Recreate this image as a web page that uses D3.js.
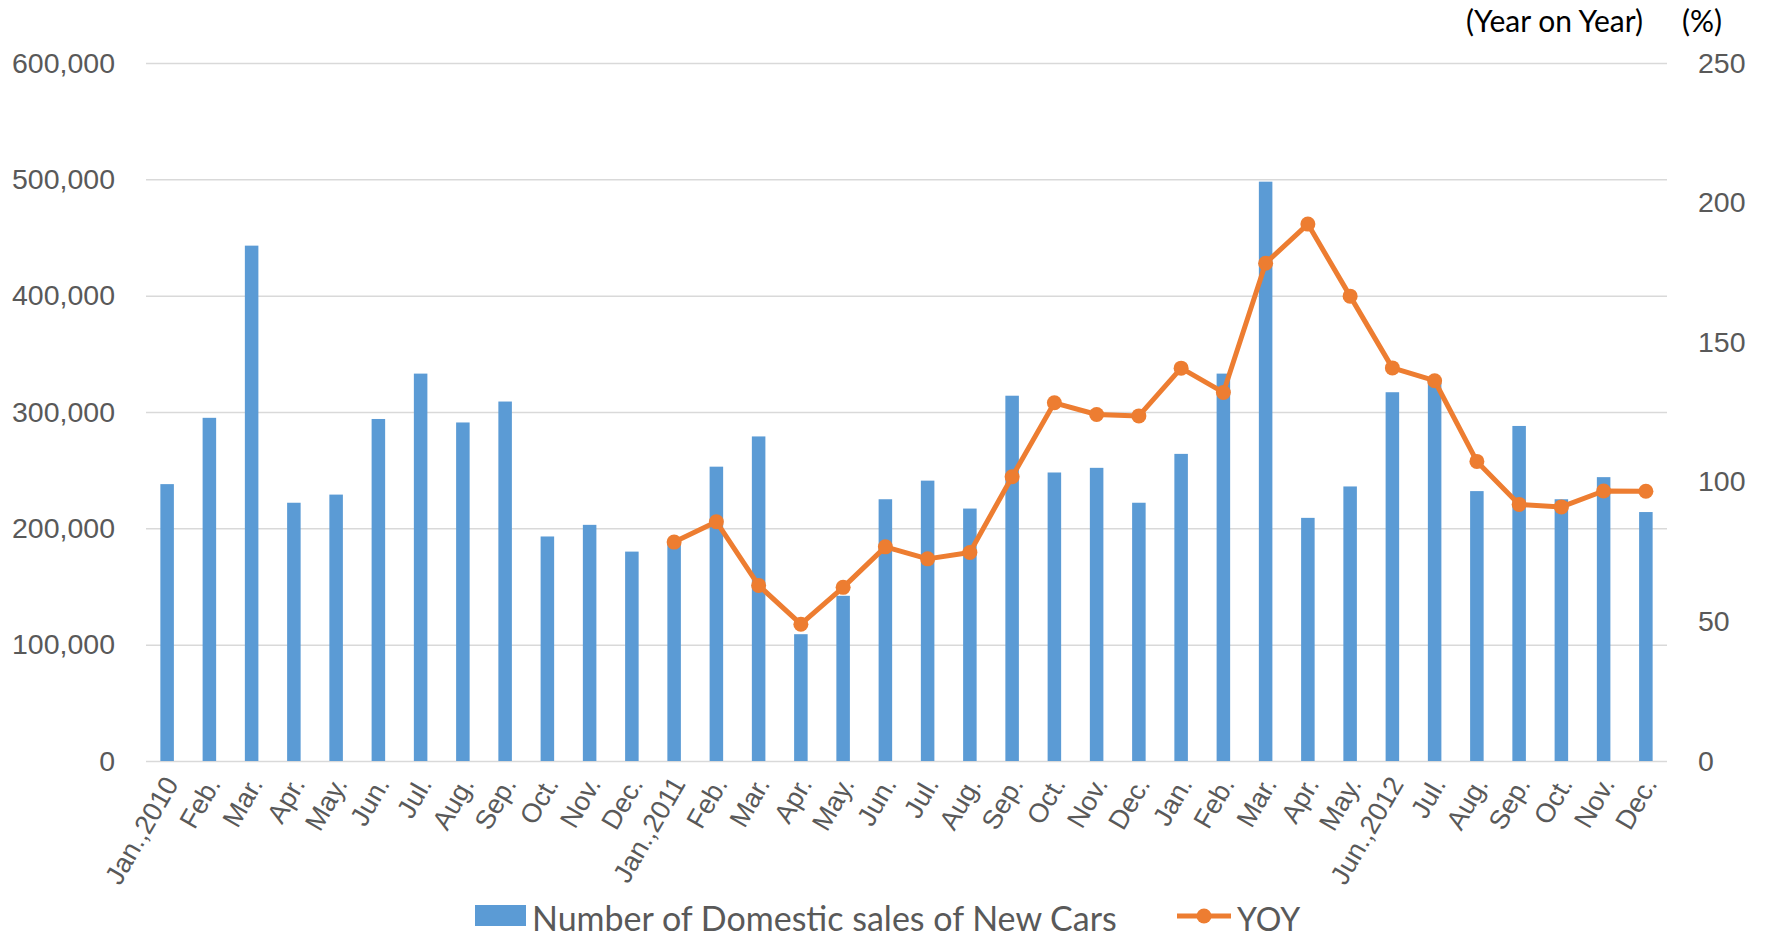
<!DOCTYPE html>
<html>
<head>
<meta charset="utf-8">
<script src="https://cdn.jsdelivr.net/npm/d3@7"></script>
<style>
  body { margin: 0; background: #fff; }
  svg { display: block; font-family: Lato, "Open Sans", sans-serif; }
  .axis text { fill: #595959; }
  .axis .domain { display: none; }
  .grid line { stroke: #d9d9d9; stroke-width: 1.5; }
  .grid .domain { display: none; }
</style>
</head>
<body>
<div id="chart"></div>
<script>

// month labels along the bottom
const months = [
    "Jan.,2010", "Feb.", "Mar.", "Apr.", "May.", "Jun.", "Jul.", "Aug.", "Sep.", "Oct.", "Nov.", "Dec.",
    "Jan.,2011", "Feb.", "Mar.", "Apr.", "May.", "Jun.", "Jul.", "Aug.", "Sep.", "Oct.", "Nov.", "Dec.",
    "Jan.", "Feb.", "Mar.", "Apr.", "May.", "Jun.,2012", "Jul.", "Aug.", "Sep.", "Oct.", "Nov.", "Dec."
];

// number of domestic sales of new cars
const sales = [
    238000, 295000, 443000, 222000, 229000, 294000, 333000, 291000, 309000, 193000, 203000, 180000,
    188000, 253000, 279000, 109000, 142000, 225000, 241000, 217000, 314000, 248000, 252000, 222000,
    264000, 333000, 498000, 209000, 236000, 317000, 328000, 232000, 288000, 225000, 244000, 214000
];

// year on year (%), none for 2010
const yoy = [
    null, null, null, null, null, null, null, null, null, null, null, null,
    78.4, 85.7, 62.9, 49.0, 62.2, 76.7, 72.4, 74.7, 101.8, 128.3, 124.1, 123.6,
    140.7, 132.0, 178.3, 192.3, 166.5, 140.8, 136.2, 107.3, 91.9, 91.0, 96.7, 96.6
];

const salesTicks = [0, 100000, 200000, 300000, 400000, 500000, 600000];
const yoyTicks = [0, 50, 100, 150, 200, 250];

const legendItems = ["Number of Domestic sales of New Cars", "YOY"];

const width = 1765, height = 943;
const margin = {top: 63, right: 98, bottom: 182, left: 146};

const barColor = "#5b9bd5";
const lineColor = "#ed7d31";

const svg = d3.select("#chart").append("svg")
    .attr("width", width)
    .attr("height", height);

const x = d3.scaleBand()
    .domain(d3.range(months.length))
    .range([margin.left, width - margin.right])
    .paddingInner(0.68)
    .paddingOuter(0.34);

const y = d3.scaleLinear()
    .domain([0, 600000])
    .range([height - margin.bottom, margin.top]);

const y2 = d3.scaleLinear()
    .domain([0, 250])
    .range([height - margin.bottom, margin.top]);

// gridlines
svg.append("g")
    .attr("class", "grid")
    .attr("transform", `translate(${margin.left},0)`)
    .call(d3.axisLeft(y).tickValues(salesTicks).tickSize(-(width - margin.left - margin.right)).tickFormat(""));

// left axis
svg.append("g")
    .attr("class", "axis")
    .attr("transform", `translate(${margin.left},0)`)
    .call(d3.axisLeft(y).tickValues(salesTicks).tickSize(0).tickPadding(31).tickFormat(d3.format(",")))
    .selectAll("text")
    .attr("font-size", "28.5px");

// right axis
svg.append("g")
    .attr("class", "axis")
    .attr("transform", `translate(${width - margin.right},0)`)
    .call(d3.axisRight(y2).tickValues(yoyTicks).tickSize(0).tickPadding(31))
    .selectAll("text")
    .attr("font-size", "28.5px");

// bottom axis, labels turned
const xAxis = svg.append("g")
    .attr("class", "axis")
    .attr("transform", `translate(0,${height - margin.bottom})`)
    .call(d3.axisBottom(x).tickSize(0).tickFormat(i => months[i]));

xAxis.selectAll("text")
    .attr("font-size", "27px")
    .attr("text-anchor", "end")
    .attr("dy", "0.35em")
    .attr("transform", "translate(4,18) rotate(-60)")
    .attr("y", 0)
    .attr("x", 0);

// bars
svg.append("g")
    .selectAll("rect")
    .data(sales)
    .join("rect")
    .attr("x", (d, i) => x(i))
    .attr("y", d => y(d))
    .attr("width", x.bandwidth())
    .attr("height", d => y(0) - y(d))
    .attr("fill", barColor);

// yoy line
const line = d3.line()
    .defined(d => d != null)
    .x((d, i) => x(i) + x.bandwidth() / 2)
    .y(d => y2(d));

svg.append("path")
    .datum(yoy)
    .attr("fill", "none")
    .attr("stroke", lineColor)
    .attr("stroke-width", 5)
    .attr("stroke-linejoin", "round")
    .attr("d", line);

svg.append("g")
    .selectAll("circle")
    .data(yoy.map((v, i) => ({v, i})).filter(d => d.v != null))
    .join("circle")
    .attr("cx", d => x(d.i) + x.bandwidth() / 2)
    .attr("cy", d => y2(d.v))
    .attr("r", 7.5)
    .attr("fill", lineColor);

// axis titles top right
svg.append("text")
    .attr("x", 1643)
    .attr("y", 32)
    .attr("text-anchor", "end")
    .attr("font-size", "30px")
    .attr("fill", "#000")
    .text("(Year on Year)");

svg.append("text")
    .attr("x", 1682)
    .attr("y", 32)
    .attr("font-size", "30px")
    .attr("fill", "#000")
    .text("(%)");

// legend
const legend = svg.append("g")
    .attr("transform", `translate(0,${height - 12})`);

legend.append("rect")
    .attr("x", 475)
    .attr("y", -26)
    .attr("width", 51)
    .attr("height", 21)
    .attr("fill", barColor);

legend.append("text")
    .attr("x", 532)
    .attr("y", 0)
    .attr("font-size", "34px")
    .attr("fill", "#595959")
    .text(legendItems[0]);

legend.append("line")
    .attr("x1", 1177)
    .attr("x2", 1231)
    .attr("y1", -15)
    .attr("y2", -15)
    .attr("stroke", lineColor)
    .attr("stroke-width", 5);

legend.append("circle")
    .attr("cx", 1204)
    .attr("cy", -15)
    .attr("r", 7.5)
    .attr("fill", lineColor);

legend.append("text")
    .attr("x", 1237)
    .attr("y", 0)
    .attr("font-size", "32px")
    .attr("fill", "#595959")
    .text(legendItems[1]);

</script>
</body>
</html>
